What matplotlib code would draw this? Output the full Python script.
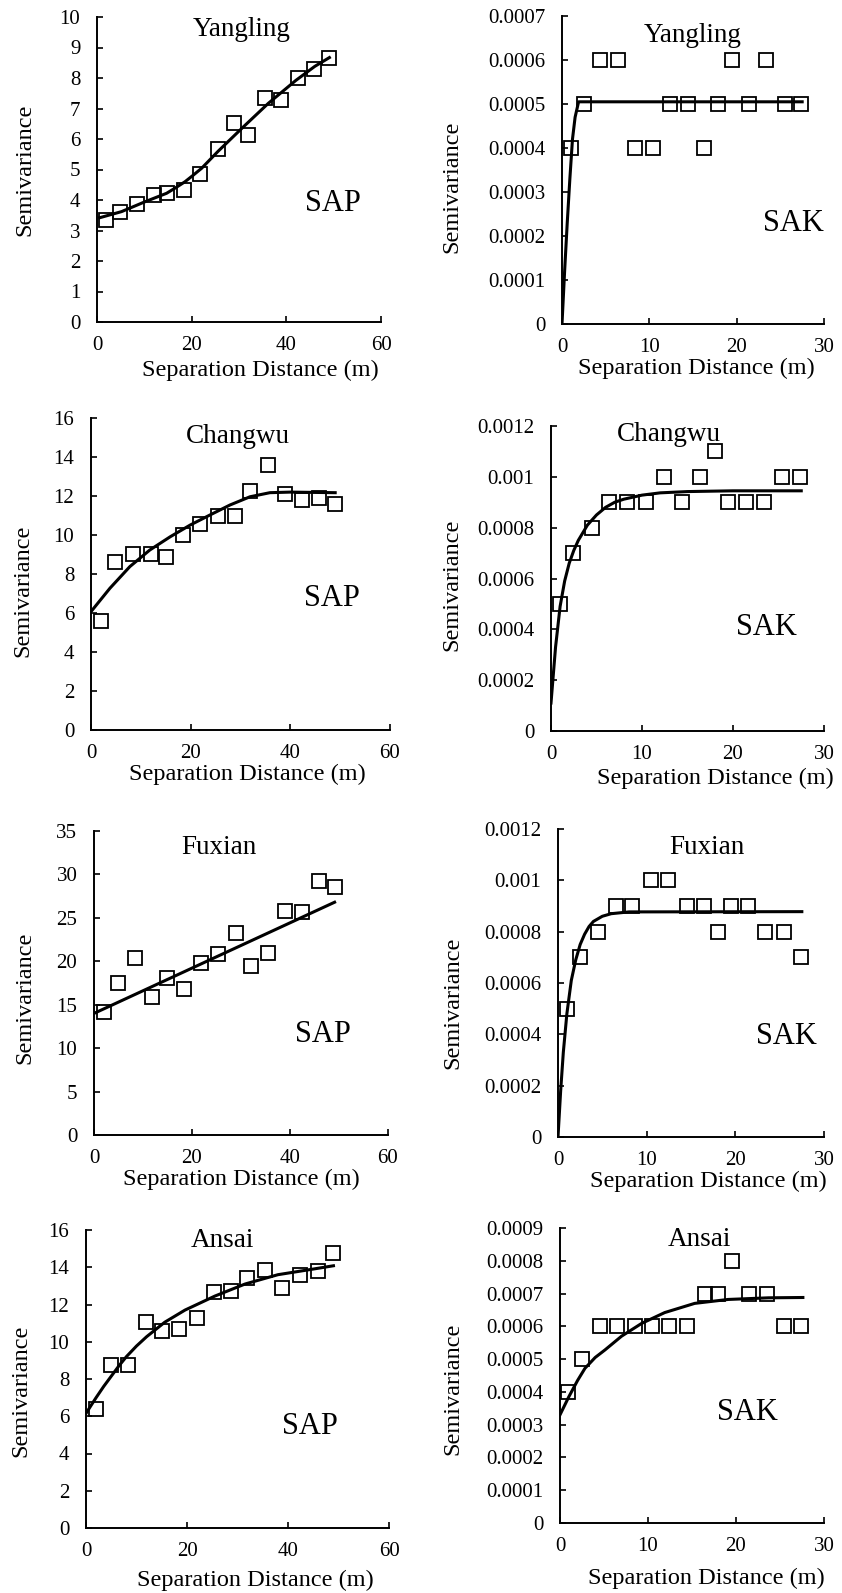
import matplotlib.pyplot as plt
from matplotlib.ticker import MultipleLocator, FuncFormatter

plt.rcParams["font.family"] = ["Liberation Serif", "DejaVu Serif"]

# ---------------- data ----------------
# Yangling
yl_sap_lag = [2.0, 4.9, 8.5, 12.0, 14.8, 18.4, 21.8, 25.5, 28.9, 32.0, 35.4, 38.9, 42.5, 45.8, 49.1]
yl_sap_gamma = [3.33, 3.60, 3.87, 4.17, 4.22, 4.33, 4.85, 5.67, 6.53, 6.14, 7.35, 7.27, 8.00, 8.28, 8.67]
yl_sap_fit_lag = [0.6, 5.2, 10.1, 14.7, 16.6, 18.6, 20.3, 22.1, 25.6, 30.6, 36.2, 42.0, 46.0, 49.1]
yl_sap_fit = [3.42, 3.62, 3.94, 4.22, 4.40, 4.60, 4.81, 5.04, 5.60, 6.35, 7.17, 7.92, 8.38, 8.67]

yl_sak_lag = [1.0, 2.5, 4.4, 6.4, 8.4, 10.4, 12.4, 14.4, 16.3, 17.9, 19.5, 21.4, 23.4, 25.5, 27.4]
yl_sak_gamma = [0.0004, 0.0005, 0.0006, 0.0006, 0.0004, 0.0004, 0.0005, 0.0005, 0.0004, 0.0005,
                0.0006, 0.0005, 0.0006, 0.0005, 0.0005]
yl_sak_fit_lag = [0.0, 0.3, 0.6, 0.9, 1.2, 1.5, 1.9, 27.5]
yl_sak_fit = [0.0, 0.00012, 0.00023, 0.00033, 0.00042, 0.00047, 0.000505, 0.000505]

# Changwu
cw_sap_lag = [2.0, 4.9, 8.4, 12.0, 15.0, 18.4, 21.9, 25.4, 28.9, 31.9, 35.5, 38.9, 42.4, 45.8, 49.0]
cw_sap_gamma = [5.60, 8.59, 9.02, 9.02, 8.86, 9.98, 10.56, 11.00, 11.00, 12.27, 13.57, 12.10, 11.80, 11.90, 11.58]
cw_sap_fit_lag = [0.0, 3.8, 7.8, 11.8, 15.9, 19.9, 23.9, 27.9, 31.9, 35.9, 40.0, 49.0]
cw_sap_fit = [6.07, 7.27, 8.38, 9.23, 9.91, 10.51, 11.03, 11.54, 11.96, 12.17, 12.20, 12.17]

cw_sak_lag = [1.0, 2.45, 4.46, 6.4, 8.4, 10.4, 12.4, 14.45, 16.4, 18.0, 19.5, 21.4, 23.4, 25.4, 27.4]
cw_sak_gamma = [0.0005, 0.0007, 0.0008, 0.0009, 0.0009, 0.0009, 0.001, 0.0009, 0.001, 0.0011,
                0.0009, 0.0009, 0.0009, 0.001, 0.001]
cw_sak_fit_lag = [0.0, 0.5, 1.0, 1.5, 2.0, 2.5, 3.0, 4.0, 5.0, 6.0, 7.0, 8.0, 10.0, 12.0, 15.0, 20.0, 27.5]
cw_sak_fit = [0.00011, 0.00033, 0.00049, 0.00059, 0.00066, 0.00071, 0.00075, 0.00081, 0.00085,
              0.00088, 0.0009, 0.000912, 0.000928, 0.000937, 0.000942, 0.000945, 0.000945]

# Fuxian
fx_sap_lag = [2.0, 4.9, 8.4, 11.8, 14.9, 18.4, 21.9, 25.4, 28.9, 32.0, 35.5, 39.0, 42.4, 45.9, 49.1]
fx_sap_gamma = [14.2, 17.5, 20.4, 15.9, 18.1, 16.8, 19.8, 20.8, 23.3, 19.5, 20.9, 25.8, 25.7, 29.2, 28.5]
fx_sap_fit_lag = [0.0, 49.1]
fx_sap_fit = [14.0, 26.8]

fx_sak_lag = [1.0, 2.5, 4.5, 6.5, 8.4, 10.5, 12.4, 14.5, 16.5, 18.0, 19.5, 21.4, 23.4, 25.5, 27.4]
fx_sak_gamma = [0.0005, 0.0007, 0.0008, 0.0009, 0.0009, 0.001, 0.001, 0.0009, 0.0009, 0.0008,
                0.0009, 0.0009, 0.0008, 0.0008, 0.0007]
fx_sak_fit_lag = [0.0, 0.3, 0.6, 1.0, 1.5, 2.0, 2.5, 3.0, 3.5, 4.0, 5.0, 6.0, 8.0, 27.5]
fx_sak_fit = [0.0, 0.00018, 0.00033, 0.00048, 0.00061, 0.00069, 0.00075, 0.00079, 0.00082,
              0.00084, 0.00086, 0.00087, 0.000877, 0.000878]

# Ansai
as_sap_lag = [1.9, 4.95, 8.4, 11.9, 15.0, 18.4, 22.0, 25.4, 28.8, 31.9, 35.4, 38.9, 42.4, 46.0, 49.0]
as_sap_gamma = [6.41, 8.74, 8.74, 11.04, 10.57, 10.68, 11.25, 12.69, 12.72, 13.40, 13.85, 12.86, 13.58, 13.81, 14.75]
as_sap_fit_lag = [0.0, 1.0, 2.0, 3.5, 5.0, 6.5, 8.0, 10.0, 12.0, 15.6, 19.6, 25.5, 31.5, 38.0, 44.7, 49.0]
as_sap_fit = [6.15, 6.58, 7.0, 7.6, 8.15, 8.7, 9.2, 9.77, 10.27, 11.05, 11.7, 12.45, 13.1, 13.6, 13.89, 14.08]

as_sak_lag = [0.95, 2.46, 4.54, 6.5, 8.5, 10.5, 12.4, 14.4, 16.5, 17.9, 19.5, 21.5, 23.5, 25.5, 27.4]
as_sak_gamma = [0.0004, 0.0005, 0.0006, 0.0006, 0.0006, 0.0006, 0.0006, 0.0006, 0.0007, 0.0007,
                0.0008, 0.0007, 0.0007, 0.0006, 0.0006]
as_sak_fit_lag = [0.0, 1.0, 2.0, 2.84, 4.0, 5.11, 7.0, 9.28, 11.9, 15.3, 19.1, 23.7, 27.6]
as_sak_fit = [0.00033, 0.000385, 0.000435, 0.000472, 0.000505, 0.000528, 0.00057, 0.000609,
              0.000642, 0.00067, 0.000682, 0.000687, 0.000688]

# ---------------- panel setup ----------------
panels = [
    # lag, gamma, fit lag, fit, site, tag, ymax, ystep, xmax, xstep
    (yl_sap_lag, yl_sap_gamma, yl_sap_fit_lag, yl_sap_fit, "Yangling", "SAP", 10, 1, 60, 20),
    (yl_sak_lag, yl_sak_gamma, yl_sak_fit_lag, yl_sak_fit, "Yangling", "SAK", 0.0007, 0.0001, 30, 10),
    (cw_sap_lag, cw_sap_gamma, cw_sap_fit_lag, cw_sap_fit, "Changwu", "SAP", 16, 2, 60, 20),
    (cw_sak_lag, cw_sak_gamma, cw_sak_fit_lag, cw_sak_fit, "Changwu", "SAK", 0.0012, 0.0002, 30, 10),
    (fx_sap_lag, fx_sap_gamma, fx_sap_fit_lag, fx_sap_fit, "Fuxian", "SAP", 35, 5, 60, 20),
    (fx_sak_lag, fx_sak_gamma, fx_sak_fit_lag, fx_sak_fit, "Fuxian", "SAK", 0.0012, 0.0002, 30, 10),
    (as_sap_lag, as_sap_gamma, as_sap_fit_lag, as_sap_fit, "Ansai", "SAP", 16, 2, 60, 20),
    (as_sak_lag, as_sak_gamma, as_sak_fit_lag, as_sak_fit, "Ansai", "SAK", 0.0009, 0.0001, 30, 10),
]

# axes boxes in pixels (left, top, right, bottom)
boxes = [
    (97, 17, 381, 322), (562, 16, 824, 324),
    (91, 418, 390, 730), (551, 426, 824, 731),
    (94, 831, 388, 1135), (558, 829, 824, 1137),
    (86, 1230, 389, 1528), (560, 1228, 824, 1523),
]
# text positions in axes fraction: site, tag, xlabel, ylabel
site_pos = [(0.51, 0.96), (0.50, 0.938), (0.49, 0.94), (0.43, 0.972),
            (0.425, 0.947), (0.56, 0.94), (0.45, 0.966), (0.53, 0.96)]
tag_pos = [(0.83, 0.387), (0.885, 0.325), (0.806, 0.423), (0.79, 0.34),
           (0.78, 0.33), (0.857, 0.325), (0.74, 0.34), (0.71, 0.373)]
xlab_pos = [(0.574, -0.16), (0.514, -0.145), (0.523, -0.143), (0.603, -0.155),
            (0.502, -0.146), (0.565, -0.145), (0.558, -0.176), (0.556, -0.188)]
ylab_pos = [(-0.254, 0.50), (-0.42, 0.445), (-0.228, 0.445), (-0.364, 0.48),
            (-0.235, 0.452), (-0.396, 0.437), (-0.215, 0.46), (-0.406, 0.454)]

W, H = 842, 1593
fig = plt.figure(figsize=(W / 100, H / 100), dpi=100)
fmt = FuncFormatter(lambda v, p: f"{v:g}")

for i, (lag, gam, flag, fit, site, tag, ymax, ystep, xmax, xstep) in enumerate(panels):
    l, t, r, b = boxes[i]
    ax = fig.add_axes([l / W, 1 - b / H, (r - l) / W, (b - t) / H])
    ax.plot(flag, fit, color="black", lw=2.2, zorder=2)
    ax.plot(lag, gam, ls="none", marker="s", ms=10, mfc="none", mec="black", mew=1.3, zorder=3)

    ax.set_xlim(0, xmax)
    ax.set_ylim(0, ymax)
    ax.xaxis.set_major_locator(MultipleLocator(xstep))
    ax.yaxis.set_major_locator(MultipleLocator(ystep))
    ax.xaxis.set_major_formatter(fmt)
    ax.yaxis.set_major_formatter(fmt)
    for s in ["top", "right"]:
        ax.spines[s].set_visible(False)
    for s in ["left", "bottom"]:
        ax.spines[s].set_linewidth(1.4)
    ax.tick_params(direction="in", length=4, width=1.2, labelsize=15)
    ax.tick_params(axis="y", pad=12)
    ax.tick_params(axis="x", pad=10)

    ax.set_xlabel("Separation Distance (m)", fontsize=17.5)
    ax.xaxis.set_label_coords(*xlab_pos[i])
    ax.xaxis.label.set_va("center")
    ax.set_ylabel("Semivariance", fontsize=17.5)
    ax.yaxis.set_label_coords(*ylab_pos[i])
    ax.yaxis.label.set_va("center")

    ax.text(*site_pos[i], site, transform=ax.transAxes, ha="center", va="center", fontsize=19.5)
    ax.text(*tag_pos[i], tag, transform=ax.transAxes, ha="center", va="center", fontsize=22)

plt.savefig("out.png", dpi=100)
